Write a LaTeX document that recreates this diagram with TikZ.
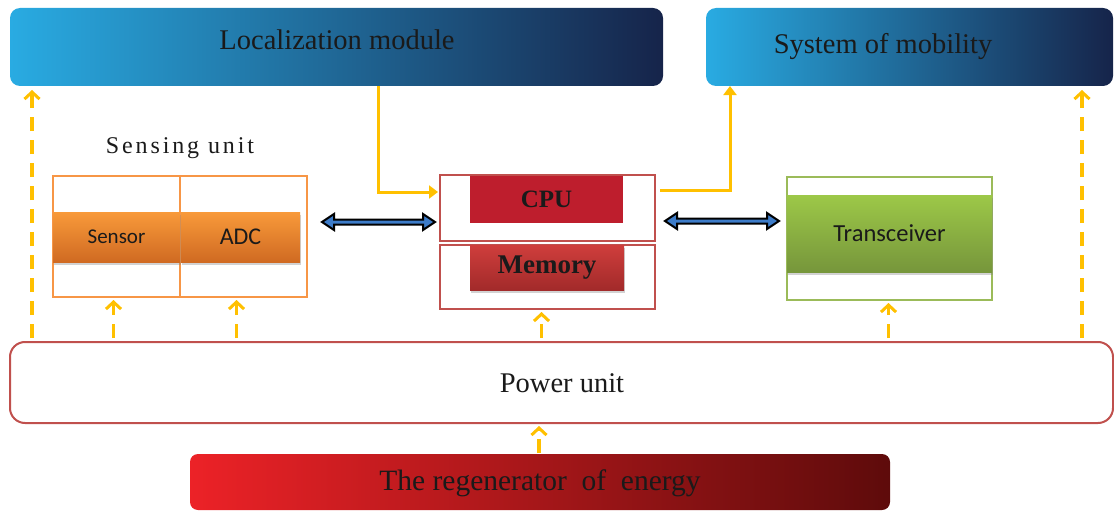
\documentclass[tikz,border=0pt]{standalone}
\usepackage{fontspec}
\setmainfont{Liberation Serif}
\newfontfamily\calib{Carlito}
\usetikzlibrary{arrows.meta,shadows,calc}
\definecolor{gold}{HTML}{FFC000}
\definecolor{blueA}{HTML}{29ABE2}
\definecolor{blueB}{HTML}{1673A6}
\definecolor{blueC}{HTML}{16244A}
\definecolor{redline}{HTML}{C0504D}
\definecolor{orline}{HTML}{F79646}
\definecolor{grline}{HTML}{9BBB59}
\definecolor{cpured}{HTML}{BE1E2D}
\definecolor{dblblue}{HTML}{3D7CC9}
\definecolor{txt}{HTML}{1A1A1A}
\definecolor{orTop}{HTML}{F89A3A}
\definecolor{orBot}{HTML}{D06A22}
\definecolor{memTop}{HTML}{CF3E3C}
\definecolor{memBot}{HTML}{A22A2A}
\definecolor{grTop}{HTML}{9DC848}
\definecolor{grBot}{HTML}{76963B}
\definecolor{rgA}{HTML}{EC2227}
\definecolor{rgB}{HTML}{B51E25}
\definecolor{rgC}{HTML}{5E0B0B}
\newcommand{\dblshape}[2]{%
  \filldraw[dblpoly] (#1) -- ++(12,-8) -- ++(0,5.5) -- ($(#2)+(-12,-2.5)$) -- ++(0,-5.5) -- (#2)
    -- ++(-12,8) -- ++(0,-5.5) -- ($(#1)+(12,2.5)$) -- ++(0,5.5) -- cycle;}
\begin{document}
\begin{tikzpicture}[x=1pt,y=-1pt,
  every node/.style={outer sep=0pt, inner sep=0pt, text=txt},
  bluebox/.style={rounded corners=10pt, left color=blueA, middle color=blueB, right color=blueC, draw=none},
  frame/.style={draw, line width=2pt, fill=white},
  bar/.style={draw=none},
  shad/.style={drop shadow={shadow xshift=1pt, shadow yshift=-3pt, opacity=0.35}},
  dasharrow/.style={draw=gold, line width=3.2pt, dash pattern=on 14pt off 9pt, -{Straight Barb[length=7pt,width=15pt,line width=3pt]}},
  solidarrow/.style={draw=gold, line width=3pt, -{Triangle[length=9pt,width=13pt]}},
  dblpoly/.style={fill=dblblue, draw=black, line width=2pt, line join=miter},
  serif/.style={font=\fontsize{28.5}{31}\selectfont},
]
\useasboundingbox (0,0) rectangle (1114,511);

% top boxes
\node[bluebox, minimum width=653pt, minimum height=78pt] (loc) at (336.5,47) {};
\node[serif] (loct) at (337,40) {Localization module};
\node[bluebox, minimum width=407pt, minimum height=78pt] (mob) at (909.5,47) {};
\node[serif] (mobt) at (883,47) {System of mobility};

% sensing unit
\node[font=\fontsize{24}{27}\selectfont\addfontfeature{LetterSpace=12}] (sut) at (180,148) {Sensing unit};
\node[frame, draw=orline, minimum width=127pt, minimum height=121pt] (sbl) at (116.5,236.5) {};
\node[frame, draw=orline, minimum width=127pt, minimum height=121pt] (sbr) at (243.5,236.5) {};
\node[bar, shad, top color=orTop, bottom color=orBot, minimum width=127pt, minimum height=50pt, font=\calib\fontsize{21}{24}\selectfont] (sensor) at (116.5,237) {Sensor};
\node[bar, shad, top color=orTop, bottom color=orBot, minimum width=119pt, minimum height=50pt, font=\calib\fontsize{24}{27}\selectfont] (adc) at (240.5,237) {ADC};

% CPU / memory
\node[frame, draw=redline, minimum width=215pt, minimum height=66pt] (cpubox) at (547.5,208) {};
\node[frame, draw=redline, minimum width=215pt, minimum height=64pt] (membox) at (547.5,277) {};
\node[bar, fill=cpured, minimum width=153pt, minimum height=47pt, font=\bfseries\fontsize{25}{28}\selectfont] (cpu) at (546.5,199.5) {CPU};
\node[bar, shad, top color=memTop, bottom color=memBot, minimum width=154pt, minimum height=45pt, font=\bfseries\fontsize{27}{30}\selectfont] (mem) at (547,267.5) {Memory};

% transceiver
\node[frame, draw=grline, minimum width=205pt, minimum height=123pt] (trbox) at (889.5,238.5) {};
\node[bar, shad, top color=grTop, bottom color=grBot, minimum width=205pt, minimum height=77pt, font=\calib\fontsize{24.5}{27}\selectfont] (tr) at (889.5,233.5) {Transceiver};

% power unit
\node[draw=redline, line width=2pt, fill=white, rounded corners=15pt, minimum width=1103pt, minimum height=81pt] (power) at (561.5,382.5) {};
\node[serif] (powert) at (562,383) {Power unit};

% regenerator
\node[rounded corners=8pt, left color=rgA, middle color=rgB, right color=rgC, minimum width=700pt, minimum height=56pt] (regen) at (540,482) {};
\node[font=\fontsize{29.5}{32}\selectfont] (regent) at (540,483) {The regenerator\ \ of\ \ energy};

% dashed power arrows
\draw[dasharrow, shorten <=4pt, shorten >=4pt] ([xshift=22pt]loc.south west |- power.north) -- ([xshift=22pt]loc.south west);
\draw[dasharrow, shorten <=4pt, shorten >=4pt] ([xshift=-31pt]mob.south east |- power.north) -- ([xshift=-31pt]mob.south east);
\draw[dasharrow, shorten <=4pt, shorten >=3pt] ([xshift=-3pt]sbl.south |- power.north) -- ([xshift=-3pt]sbl.south);
\draw[dasharrow, shorten <=4pt, shorten >=3pt] ([xshift=-7pt]sbr.south |- power.north) -- ([xshift=-7pt]sbr.south);
\draw[dasharrow, shorten <=4pt, shorten >=3pt] ([xshift=-6pt]membox.south |- power.north) -- ([xshift=-6pt]membox.south);
\draw[dasharrow, shorten <=4pt, shorten >=3pt] ([xshift=-1pt]trbox.south |- power.north) -- ([xshift=-1pt]trbox.south);
\draw[dasharrow, shorten <=1pt, shorten >=3pt] ([xshift=-1pt]regen.north) -- ([xshift=-1pt]regen.north |- power.south);

% solid control arrows
\draw[solidarrow, shorten >=2pt] ([xshift=41.5pt]loc.south) |- ([yshift=16pt]cpubox.west);
\draw[solidarrow] ([xshift=5pt,yshift=18pt]cpubox.east) -| ([xshift=24pt]mob.south west);

% data double arrows
\coordinate (d1a) at ([xshift=15pt,yshift=14.5pt]sbr.east);
\coordinate (d1b) at ([xshift=-5pt]d1a -| cpubox.west);
\dblshape{d1a}{d1b}
\coordinate (d2a) at ([xshift=10pt,yshift=-13pt]cpubox.east);
\coordinate (d2b) at ([xshift=-8pt]d2a -| trbox.west);
\dblshape{d2a}{d2b}
\end{tikzpicture}
\end{document}
